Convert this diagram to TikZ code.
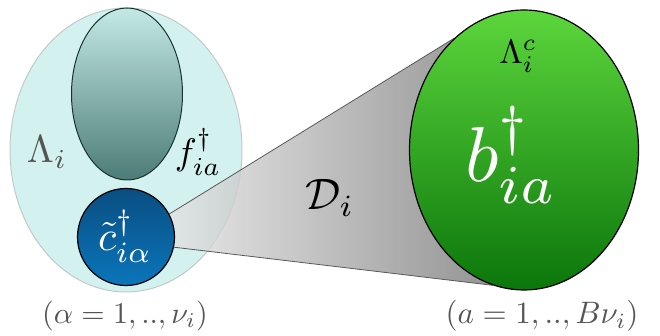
\documentclass[tikz,border=0pt]{standalone}
\usepackage{tikz}
\usetikzlibrary{positioning,shapes.geometric,calc,backgrounds}
\definecolor{csite}{HTML}{D3F2EF}
\definecolor{csiteD}{HTML}{C2CACA}
\definecolor{cinT}{HTML}{C4E9E5}
\definecolor{cinB}{HTML}{4C7C76}
\definecolor{cinD}{HTML}{17332F}
\definecolor{cbluT}{HTML}{0A4E82}
\definecolor{cbluB}{HTML}{0A76BA}
\definecolor{cgrnT}{HTML}{5CD63C}
\definecolor{cgrnB}{HTML}{0B760B}
\definecolor{clbl}{HTML}{555555}
\pgfdeclarelayer{bottom}
\pgfsetlayers{bottom,background,main}
\newcommand{\lblx}[2]{\scalebox{#1}{$#2$}}
\tikzset{
  blob/.style={ellipse, inner sep=0pt},
  lbl/.style={inner sep=0pt},
  rim/.style={gray!70!black, line width=0.8pt},
}

\begin{document}
\begin{tikzpicture}[x=1pt, y=1pt]
  \useasboundingbox (0,0) rectangle (660,336);
  % blue orbital and green bath
  \node[circle, inner sep=0pt, top color=cbluT, bottom color=cbluB,
        draw=black, line width=1.2pt, minimum size=97] (cdot) at (126,99) {};
  \node[blob, top color=cgrnT, bottom color=cgrnB, draw=black, line width=1.2pt,
        minimum width=229, minimum height=280] (bath) at (524,186) {};
  % site region behind everything
  \begin{pgfonlayer}{bottom}
    \node[blob, fill=csite, draw=csiteD, line width=1pt,
          minimum width=232, minimum height=284] (site) at (126,186) {};
    \node[blob, top color=cinT, bottom color=cinB, draw=cinD, line width=1pt,
          minimum width=111, minimum height=172] (inner) at (127,242) {};
  \end{pgfonlayer}
  % cone
  \begin{pgfonlayer}{background}
    \shade[left color=gray!22, right color=gray!95!black, opacity=0.8]
      (cdot.28) -- (bath.122) -- (bath.257) -- (cdot.-12) -- cycle;
    \draw[rim] (cdot.28) -- (bath.122);
    \draw[rim] (cdot.-12) -- (bath.257);
  \end{pgfonlayer}
  % labels
  \node[lbl, text=clbl] (lam) at (47,184) {\lblx{3.9}{\Lambda_i}};
  \node[lbl] (fop) at (198,184) {\lblx{3.7}{f^\dagger_{ia}}};
  \node[lbl, text=white] (cop) at (125,100) {\lblx{4.2}{\tilde{c}^\dagger_{i\alpha}}};
  \node[lbl] (dmap) at (330,138) {\lblx{4.4}{\mathcal{D}_i}};
  \node[lbl] (lamc) at (518,280) {\lblx{3.4}{\Lambda^c_i}};
  \node[lbl, text=white] (bop) at (512,181) {\lblx{7.8}{b^\dagger_{ia}}};
  \node[lbl, text=clbl] (rngl) at (125,20) {\lblx{3.0}{(\alpha=1,..,\nu_i)}};
  \node[lbl, text=clbl] (rngr) at (542,20) {\lblx{3.1}{(a=1,..,B\nu_i)}};
\end{tikzpicture}
\end{document}
